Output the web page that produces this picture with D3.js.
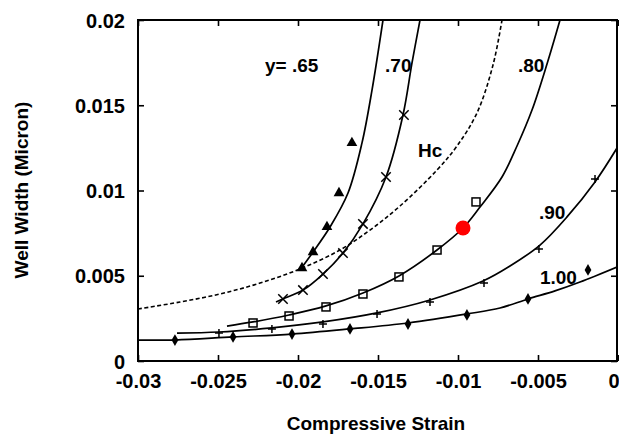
<!DOCTYPE html>
<html><head><meta charset="utf-8">
<script src="https://cdn.jsdelivr.net/npm/d3@7"></script>
<style>
body{margin:0;background:#fff;}
text{font-family:"Liberation Sans",Arial,Helvetica,sans-serif;fill:#000;}
</style></head>
<body><svg id="c" width="619" height="435"></svg>
<script>
// ---- data ----
const xTicks = [-0.03, -0.025, -0.02, -0.015, -0.01, -0.005, 0];
const xTickLabels = ["-0.03", "-0.025", "-0.02", "-0.015", "-0.01", "-0.005", "0"];
const yTicks = [0, 0.005, 0.01, 0.015, 0.02];
const yTickLabels = ["0", "0.005", "0.01", "0.015", "0.02"];

// measured points per composition
const pts065 = [[-0.01663,0.01279],[-0.01744,0.00985],[-0.01819,0.00786],[-0.01906,0.00639],[-0.01975,0.00545]];
const pts070 = [[-0.01338,0.01443],[-0.0145,0.01079],[-0.01594,0.00804],[-0.01719,0.00633],[-0.01844,0.0051],[-0.01969,0.00416],[-0.02094,0.00364]];
const pts080 = [[-0.008875,0.00933],[-0.01131,0.00651],[-0.01369,0.00493],[-0.01594,0.00393],[-0.01825,0.00317],[-0.02056,0.00264],[-0.02281,0.00223]];
const pts090 = [[-0.001437,0.01067],[-0.00494,0.00657],[-0.008375,0.00457],[-0.01175,0.00346],[-0.01506,0.00276],[-0.01844,0.00217],[-0.02163,0.00188],[-0.02494,0.00164]];
const pts100 = [[-0.001875,0.00534],[-0.005625,0.00364],[-0.00944,0.0027],[-0.013125,0.00217],[-0.01675,0.00188],[-0.020375,0.00158],[-0.02406,0.00141],[-0.02769,0.00123]];

// fitted curves
const fit065 = [[-0.019875,0.00534],[-0.01906,0.00639],[-0.018,0.00786],[-0.016875,0.00985],[-0.016,0.01279],[-0.015375,0.01589],[-0.014688,0.02]];
const fit070 = [[-0.021375,0.00346],[-0.020938,0.00364],[-0.019688,0.00416],[-0.018438,0.0051],[-0.017188,0.00633],[-0.015938,0.00804],[-0.0145,0.01079],[-0.0134375,0.01443],[-0.012875,0.01748],[-0.012375,0.02]];
const fit080 = [[-0.024438,0.00205],[-0.022813,0.00229],[-0.020563,0.0027],[-0.01825,0.00323],[-0.015938,0.00399],[-0.013688,0.00499],[-0.011313,0.00651],[-0.009688,0.0078],[-0.008625,0.00903],[-0.00725,0.01079],[-0.0063125,0.01261],[-0.005375,0.01472],[-0.0044375,0.01742],[-0.003625,0.02]];
const fit090 = [[-0.027563,0.00164],[-0.024938,0.0017],[-0.021625,0.00194],[-0.018438,0.00229],[-0.015063,0.00282],[-0.01175,0.00358],[-0.0084375,0.00469],[-0.00675,0.00557],[-0.004875,0.0068],[-0.0031875,0.00845],[-0.0014375,0.0105],[-0.0000625,0.01249]];
const fit100 = [[-0.03,0.00123],[-0.027688,0.00123],[-0.024063,0.00141],[-0.020375,0.00158],[-0.01675,0.00188],[-0.013125,0.00223],[-0.0094375,0.00276],[-0.007375,0.00311],[-0.005625,0.00364],[-0.0039375,0.00411],[-0.002375,0.00463],[-0.0000625,0.00551]];
const fitHc = [[-0.03,0.00305],[-0.027375,0.00346],[-0.024875,0.00393],[-0.022375,0.00457],[-0.019875,0.0054],[-0.017375,0.00651],[-0.0155,0.00768],[-0.013625,0.00909],[-0.011313,0.0112],[-0.0100625,0.01261],[-0.0088125,0.01455],[-0.0078125,0.01736],[-0.00725,0.02]];

const highlight = [[-0.0096875, 0.0078]];

const curveLabels = [
  {text:"y= .65", x:-0.02206, y:0.01736},
  {text:".70", x:-0.01456, y:0.01736},
  {text:".80", x:-0.00625, y:0.01736},
  {text:"Hc", x:-0.0125, y:0.01238},
  {text:".90", x:-0.00494, y:0.00874},
  {text:"1.00", x:-0.00488, y:0.00493}
];

// ---- drawing ----
const svg = d3.select("#c");
const x = d3.scaleLinear().domain([-0.03, 0]).range([138, 618]);
const y = d3.scaleLinear().domain([0, 0.02]).range([361, 20]);
const x0 = 138, x1 = 617, y0 = 361, y1 = 20;

svg.append("defs").append("clipPath").attr("id","clip")
  .append("rect").attr("x",x0).attr("y",y1).attr("width",x1-x0).attr("height",y0-y1);

// axes with inward ticks
const fmtX = (d,i) => xTickLabels[i];
const fmtY = (d,i) => yTickLabels[i];
const gx = svg.append("g").attr("transform",`translate(0,${y0})`)
  .call(d3.axisBottom(x).tickValues(xTicks).tickFormat(fmtX).tickSize(-6).tickPadding(13));
const gxt = svg.append("g").attr("transform",`translate(0,${y1})`)
  .call(d3.axisTop(x).tickValues(xTicks).tickFormat("").tickSize(-6));
const gy = svg.append("g").attr("transform",`translate(${x0},0)`)
  .call(d3.axisLeft(y).tickValues(yTicks).tickFormat(fmtY).tickSize(-6).tickPadding(13));
const gyr = svg.append("g").attr("transform",`translate(${x1},0)`)
  .call(d3.axisRight(y).tickValues(yTicks).tickFormat("").tickSize(-6));
[gx,gxt,gy,gyr].forEach(g=>{
  g.select(".domain").remove();
  g.selectAll(".tick line").attr("stroke","#000").attr("stroke-width",1.6);
  g.selectAll("text").attr("font-size",20).attr("font-weight","bold").attr("fill","#000")
    .attr("font-family","'Liberation Sans',Arial,sans-serif");
});
gy.selectAll("text").attr("dy","0.35em");
// last x tick label ("0") sits at the right edge: keep it inside the page
gx.selectAll(".tick text").filter((d,i)=>i===xTicks.length-1).attr("text-anchor","end").attr("dx",1);
svg.append("rect").attr("x",x0).attr("y",y1).attr("width",x1-x0).attr("height",y0-y1)
  .attr("fill","none").attr("stroke","#000").attr("stroke-width",2);

// axis titles
svg.append("text").attr("x",376).attr("y",430).attr("text-anchor","middle")
  .attr("font-size",19).attr("font-weight","bold").text("Compressive Strain");
svg.append("text").attr("transform","translate(28,190) rotate(-90)").attr("text-anchor","middle")
  .attr("font-size",19).attr("font-weight","bold").text("Well Width (Micron)");

// curves
const line = d3.line().x(d=>x(d[0])).y(d=>y(d[1])).curve(d3.curveCatmullRom.alpha(0.5));
const plot = svg.append("g").attr("clip-path","url(#clip)");
[fit065, fit070, fit080, fit090, fit100].forEach(f=>{
  plot.append("path").attr("d", line(f)).attr("fill","none").attr("stroke","#000").attr("stroke-width",1.7);
});
plot.append("path").attr("d", line(fitHc)).attr("fill","none").attr("stroke","#000")
  .attr("stroke-width",1.6).attr("stroke-dasharray","4,2.5");

// markers
const sym = (type,size) => d3.symbol().type(type).size(size)();
const mk = plot.append("g");
pts065.forEach(p=>mk.append("path").attr("d",sym(d3.symbolTriangle,50))
  .attr("transform",`translate(${x(p[0])},${y(p[1])})`).attr("fill","#000"));
pts070.forEach(p=>mk.append("path").attr("d",sym(d3.symbolX,60))
  .attr("transform",`translate(${x(p[0])},${y(p[1])})`).attr("fill","none").attr("stroke","#000").attr("stroke-width",1.5));
pts080.forEach(p=>mk.append("rect").attr("x",x(p[0])-4).attr("y",y(p[1])-4).attr("width",8).attr("height",8)
  .attr("fill","none").attr("stroke","#000").attr("stroke-width",1.5));
pts090.forEach(p=>mk.append("path").attr("d",`M-4,0H4M0,-4V4`)
  .attr("transform",`translate(${x(p[0])},${y(p[1])})`).attr("fill","none").attr("stroke","#000").attr("stroke-width",1.5));
pts100.forEach(p=>mk.append("path").attr("d",sym(d3.symbolDiamond,40))
  .attr("transform",`translate(${x(p[0])},${y(p[1])})`).attr("fill","#000"));

// highlighted point
highlight.forEach(p=>svg.append("circle").attr("cx",x(p[0])).attr("cy",y(p[1])).attr("r",7.5).attr("fill","#f00"));

// curve labels
curveLabels.forEach(l=>svg.append("text").attr("x",x(l.x)).attr("y",y(l.y)).attr("dy","0.35em")
  .attr("font-size",19).attr("font-weight","bold").attr("text-anchor","start").text(l.text));
</script></body></html>
